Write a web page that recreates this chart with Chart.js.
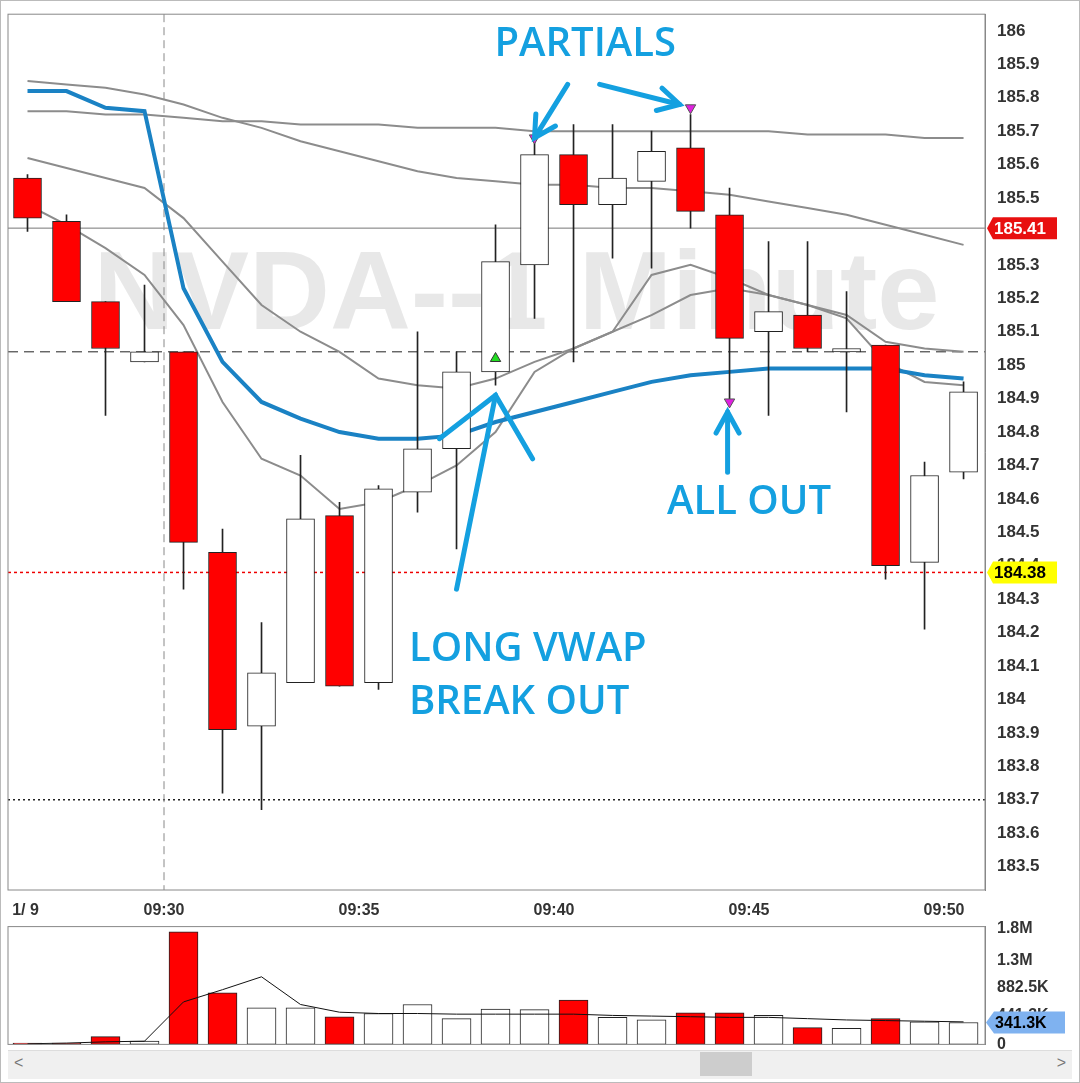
<!DOCTYPE html>
<html><head><meta charset="utf-8">
<script src="https://cdn.jsdelivr.net/npm/chart.js@4"></script>
<style>
body{margin:0;background:#fff;width:1080px;height:1083px;position:relative;overflow:hidden;font-family:"Liberation Sans",Arial,sans-serif}
#m{position:absolute;left:0;top:0;width:1080px;height:915px}
#v{position:absolute;left:0;top:913px;width:1080px;height:145px}
#sb{position:absolute;left:8px;top:1050px;width:1064px;height:28px;background:#f0f0f0;border-top:1px solid #ddd}
#th{position:absolute;left:700px;top:1052px;width:52px;height:24px;background:#cdcdcd}
#frame{position:absolute;left:0;top:0;width:1078px;height:1081px;border:1px solid #bbb;pointer-events:none}
</style></head><body>
<div id="m"><canvas id="mc"></canvas></div>
<div id="v"><canvas id="vc"></canvas></div>
<div id="sb"><span style="position:absolute;left:6px;top:3px;color:#777;font-size:16px">&lt;</span><span style="position:absolute;right:6px;top:3px;color:#777;font-size:16px">&gt;</span></div>
<div id="th"></div><div id="frame"></div>
<script>
const opens  =[185.56,185.43,185.19,185.01,185.04,184.44,183.92,184.05,184.55,184.05,184.62,184.75,184.98,185.30,185.63,185.48,185.55,185.65,185.45,185.10,185.15,185.04,185.06,184.41,184.68];
const closes =[185.44,185.19,185.05,185.04,184.47,183.91,184.08,184.54,184.04,184.63,184.75,184.98,185.31,185.63,185.48,185.56,185.64,185.46,185.08,185.16,185.05,185.05,184.40,184.67,184.92];
const highs  =[185.57,185.45,185.19,185.24,185.04,184.51,184.23,184.73,184.59,184.64,185.10,185.04,185.42,185.70,185.72,185.72,185.70,185.75,185.53,185.37,185.37,185.22,185.06,184.71,184.95];
const lows   =[185.40,185.19,184.85,185.01,184.33,183.72,183.67,184.05,184.04,184.03,184.56,184.45,184.94,185.14,185.01,185.32,185.29,185.41,184.90,184.85,185.04,184.86,184.36,184.21,184.66];
const vwap   =[185.82,185.82,185.77,185.76,185.23,185.01,184.89,184.84,184.80,184.78,184.78,184.79,184.83,184.86,184.89,184.92,184.95,184.97,184.98,184.99,184.99,184.99,184.99,184.97,184.96];
const maA    =[185.76,185.76,185.75,185.75,185.74,185.73,185.73,185.72,185.72,185.72,185.71,185.71,185.71,185.70,185.70,185.70,185.70,185.70,185.70,185.70,185.69,185.69,185.69,185.68,185.68];
const maB    =[185.85,185.84,185.83,185.81,185.78,185.74,185.71,185.67,185.64,185.61,185.58,185.56,185.55,185.54,185.54,185.53,185.53,185.52,185.51,185.49,185.47,185.45,185.42,185.39,185.36];
const maC    =[185.62,185.59,185.56,185.53,185.44,185.31,185.18,185.10,185.04,184.96,184.94,184.93,184.96,185.01,185.05,185.10,185.27,185.30,185.26,185.21,185.18,185.15,185.07,185.05,185.04];
const maD    =[185.48,185.42,185.35,185.27,185.12,184.89,184.72,184.67,184.57,184.59,184.64,184.70,184.80,184.98,185.05,185.10,185.15,185.21,185.23,185.21,185.18,185.14,185.01,184.95,184.94];
const volume =[0.02,0.02,0.12,0.05,1.75,0.80,0.57,0.57,0.43,0.48,0.62,0.40,0.55,0.54,0.69,0.42,0.38,0.49,0.49,0.45,0.26,0.25,0.40,0.35,0.34];
const volMA  =[0.01,0.02,0.04,0.05,0.66,0.85,1.05,0.62,0.50,0.48,0.48,0.47,0.47,0.47,0.47,0.45,0.44,0.43,0.42,0.42,0.40,0.38,0.37,0.36,0.35];
const xTickPos=[-0.05,3.5,8.5,13.5,18.5,23.5];
const xTickLabels=["1/ 9","09:30","09:35","09:40","09:45","09:50"];
const volTickVals=[0,0.4413,0.8825,1.3,1.8];
const volTickLabels=["0","441.3K","882.5K","1.3M","1.8M"];
const buyMarks=[{x:12,y:185.02}];
const sellMarks=[{x:13,y:185.68},{x:17,y:185.77},{x:18,y:184.89}];
const levels=[{v:185.41,c:'#777',d:[],w:1},{v:185.04,c:'#222',d:[10,6],w:1},{v:184.38,c:'#e00',d:[3,3],w:1.5},{v:183.70,c:'#222',d:[2,3],w:1.5}];
const idx=opens.map((_,i)=>i);
const up=idx.map(i=>closes[i]>=opens[i]);
const blue='#14a0e0';

const overlay={id:'ov',
 beforeDatasetsDraw(c){const {ctx,chartArea:a,scales:{x,y}}=c;ctx.save();
  ctx.font='bold 112px "Liberation Sans",Arial';ctx.fillStyle='rgba(190,190,190,0.35)';ctx.textAlign='center';ctx.textBaseline='middle';
  ctx.fillText('NVDA--1 Minute',(a.left+a.right)/2+20,y.getPixelForValue(185.2));
  levels.forEach(l=>{ctx.beginPath();ctx.setLineDash(l.d);ctx.strokeStyle=l.c;ctx.lineWidth=l.w;const p=y.getPixelForValue(l.v);ctx.moveTo(a.left,p);ctx.lineTo(a.right,p);ctx.stroke();});
  ctx.setLineDash([8,5]);ctx.strokeStyle='#888';ctx.lineWidth=1;const vx=x.getPixelForValue(3.5);ctx.beginPath();ctx.moveTo(vx,a.top);ctx.lineTo(vx,a.bottom);ctx.stroke();
  ctx.restore();},
 afterDraw(c){const {ctx,chartArea:a,scales:{x,y}}=c;ctx.save();
  const P=(i,v)=>[x.getPixelForValue(i),y.getPixelForValue(v)];
  ctx.strokeStyle=blue;ctx.lineWidth=5;ctx.lineCap='round';
  const arrow=(t,h,w1,w2)=>{const [tx,ty]=P(...t),[hx,hy]=P(...h);ctx.beginPath();ctx.moveTo(tx,ty);ctx.lineTo(hx,hy);ctx.stroke();
   let wa,wb;if(w1){wa=P(...w1);wb=P(...w2);}else{const ang=Math.atan2(hy-ty,hx-tx),L=24;wa=[hx-L*Math.cos(ang-0.5),hy-L*Math.sin(ang-0.5)];wb=[hx-L*Math.cos(ang+0.5),hy-L*Math.sin(ang+0.5)];}
   ctx.beginPath();ctx.moveTo(wa[0],wa[1]);ctx.lineTo(hx,hy);ctx.lineTo(wb[0],wb[1]);ctx.stroke();};
  arrow([13.85,185.84],[13.0,185.68]);
  arrow([14.67,185.84],[16.72,185.78]);
  arrow([17.95,184.68],[17.95,184.86]);
  arrow([11.0,184.33],[12.0,184.91],[10.56,184.78],[12.95,184.72]);
  ctx.fillStyle=blue;ctx.font='600 40px "Open Sans",sans-serif';ctx.textBaseline='middle';
  ctx.textAlign='center';let p=P(14.3,185.96);ctx.fillText('PARTIALS',p[0],p[1]);
  p=P(18.5,184.59);ctx.fillText('ALL OUT',p[0],p[1]);
  ctx.textAlign='left';p=P(9.78,184.15);ctx.fillText('LONG VWAP',p[0],p[1]);p=P(9.78,183.99);ctx.fillText('BREAK OUT',p[0],p[1]);
  const tag=(v,bg,fg)=>{const py=y.getPixelForValue(v);ctx.font='bold 17px "Liberation Sans",Arial';ctx.textAlign='left';
   ctx.fillStyle=bg;ctx.beginPath();ctx.moveTo(a.right+2,py);ctx.lineTo(a.right+8,py-11);ctx.lineTo(a.right+72,py-11);ctx.lineTo(a.right+72,py+11);ctx.lineTo(a.right+8,py+11);ctx.closePath();ctx.fill();
   ctx.fillStyle=fg;ctx.fillText(v.toFixed(2),a.right+9,py+1);};
  tag(185.41,'#e81010','#fff');tag(184.38,'#ffff00','#000');
  ctx.strokeStyle='#888';ctx.lineWidth=1;ctx.strokeRect(a.left,a.top,a.right-a.left,a.bottom-a.top);
  ctx.restore();}};

const pts=a=>a.map((v,i)=>({x:i,y:v}));
new Chart(document.getElementById('mc'),{
 data:{datasets:[
  {type:'line',data:pts(maA),borderColor:'#8c8c8c',borderWidth:2,pointRadius:0,order:5},
  {type:'line',data:pts(maB),borderColor:'#8c8c8c',borderWidth:2,pointRadius:0,order:5},
  {type:'line',data:pts(maC),borderColor:'#8c8c8c',borderWidth:2,pointRadius:0,order:5},
  {type:'line',data:pts(maD),borderColor:'#8c8c8c',borderWidth:2,pointRadius:0,order:5},
  {type:'line',data:pts(vwap),borderColor:'#1a82c4',borderWidth:4,pointRadius:0,order:4},
  {type:'bar',data:idx.map(i=>({x:i,y:[lows[i],highs[i]]})),backgroundColor:'#222',barThickness:1,grouped:false,order:3},
  {type:'bar',data:idx.map(i=>({x:i,y:[opens[i],closes[i]]})),backgroundColor:idx.map(i=>up[i]?'#fff':'#ff0000'),borderColor:'#222',borderWidth:1,borderSkipped:false,barThickness:28,grouped:false,order:2},
  {type:'scatter',data:buyMarks,pointStyle:'triangle',pointRadius:6,backgroundColor:'#22dd22',borderColor:'#333',borderWidth:1,order:1},
  {type:'scatter',data:sellMarks,pointStyle:'triangle',rotation:180,pointRadius:6,backgroundColor:'#e020e0',borderColor:'#555',borderWidth:1,order:1}
 ]},
 options:{responsive:true,maintainAspectRatio:false,animation:false,
  layout:{padding:{left:8,top:8,right:0,bottom:0}},
  plugins:{legend:{display:false},tooltip:{enabled:false}},
  scales:{
   x:{type:'linear',offset:false,min:-0.5,max:24.55,grid:{display:false,offset:false},border:{display:false},
    afterBuildTicks:s=>{s.ticks=xTickPos.map(v=>({value:v}));},
    afterFit:s=>{s.height=25;},
    ticks:{autoSkip:false,maxRotation:0,color:'#333',font:{size:16,weight:'bold',family:'"Liberation Sans",Arial'},callback:(v)=>xTickLabels[xTickPos.indexOf(v)]}},
   y:{position:'right',min:183.43,max:186.05,grid:{display:false},border:{display:true,color:'#888'},
    afterBuildTicks:s=>{const t=[];for(let k=0;k<=25;k++)t.push({value:+(183.5+k*0.1).toFixed(1)});s.ticks=t;},
    afterFit:s=>{s.width=95;},
    ticks:{autoSkip:false,padding:4,color:'#333',font:{size:17,weight:'bold',family:'"Liberation Sans",Arial'},callback:v=>String(+v.toFixed(1))}}
  }},
 plugins:[overlay]});

new Chart(document.getElementById('vc'),{
 data:{datasets:[
  {type:'line',data:pts(volMA),borderColor:'#111',borderWidth:1,pointRadius:0,order:1},
  {type:'bar',data:pts(volume),backgroundColor:idx.map(i=>up[i]?'#fff':'#ff0000'),borderColor:'#222',borderWidth:1,borderSkipped:false,barThickness:29,order:2}
 ]},
 options:{responsive:true,maintainAspectRatio:false,animation:false,
  layout:{padding:{left:8,top:8,right:0,bottom:0}},
  plugins:{legend:{display:false},tooltip:{enabled:false}},
  scales:{
   x:{type:'linear',offset:false,min:-0.5,max:24.55,display:false,grid:{offset:false}},
   y:{position:'right',min:0,max:1.83,grid:{display:false},border:{display:true,color:'#888'},
    afterBuildTicks:s=>{s.ticks=volTickVals.map(v=>({value:v}));},
    afterFit:s=>{s.width=95;},
    ticks:{autoSkip:false,padding:4,color:'#333',font:{size:16,weight:'bold',family:'"Liberation Sans",Arial'},callback:v=>volTickLabels[volTickVals.indexOf(v)]}}
  }},
 plugins:[{id:'vt',afterDraw(c){const {ctx,chartArea:a,scales:{y}}=c;ctx.save();
  ctx.strokeStyle='#888';ctx.strokeRect(a.left,a.top,a.right-a.left,a.bottom-a.top);
  const py=y.getPixelForValue(volume[volume.length-1]);ctx.fillStyle='#7fb2f0';ctx.beginPath();ctx.moveTo(a.right+1,py);ctx.lineTo(a.right+9,py-11);ctx.lineTo(a.right+80,py-11);ctx.lineTo(a.right+80,py+11);ctx.lineTo(a.right+9,py+11);ctx.closePath();ctx.fill();
  ctx.fillStyle='#000';ctx.font='bold 16px "Liberation Sans",Arial';ctx.textBaseline='middle';ctx.fillText('341.3K',a.right+10,py+1);ctx.restore();}}]});
</script></body></html>
